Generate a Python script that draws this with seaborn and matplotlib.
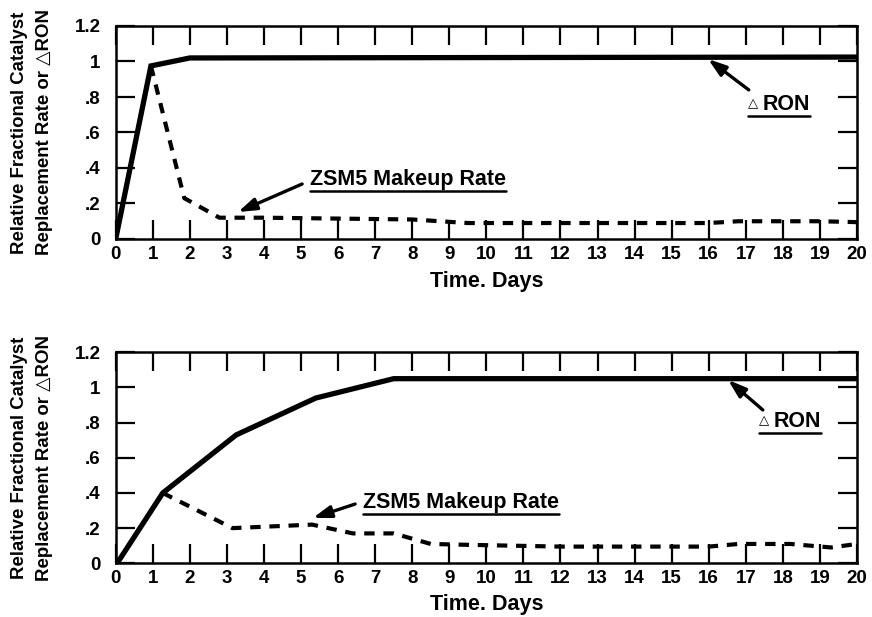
import matplotlib
matplotlib.use("Agg")
import matplotlib.pyplot as plt
import seaborn as sns
import pandas as pd
from matplotlib.lines import Line2D

# Axis ticks and labels
day_ticks = list(range(0, 21))
y_ticks = [0, 0.2, 0.4, 0.6, 0.8, 1.0, 1.2]
y_tick_labels = ["0", ".2", ".4", ".6", ".8", "1", "1.2"]

# Upper panel: fast response
ron_a_days = [0.0, 0.95, 2.0, 20.0]
ron_a_vals = [0.0, 0.975, 1.02, 1.025]
zsm_a_days = [0.95, 1.85, 2.8, 4.0, 6.0, 8.0, 9.5, 12.0, 14.0, 16.0, 16.8, 19.0, 20.0]
zsm_a_vals = [0.975, 0.23, 0.12, 0.12, 0.115, 0.11, 0.09, 0.09, 0.09, 0.09, 0.10, 0.10, 0.095]

# Lower panel: slow response
ron_b_days = [0.1, 1.27, 3.25, 5.4, 7.5, 20.0]
ron_b_vals = [0.02, 0.40, 0.73, 0.94, 1.05, 1.05]
zsm_b_days = [1.27, 3.15, 5.3, 6.4, 7.5, 8.5, 9.5, 12.0, 16.0, 16.8, 18.2, 19.3, 20.0]
zsm_b_vals = [0.40, 0.20, 0.22, 0.17, 0.17, 0.11, 0.105, 0.095, 0.095, 0.11, 0.11, 0.09, 0.11]

sns.set_theme(style="ticks")
plt.rcParams["font.family"] = ["Liberation Sans", "DejaVu Sans"]
plt.rcParams["font.weight"] = "bold"

W, H = 872, 617
fig = plt.figure(figsize=(W / 100, H / 100), dpi=100)
fig.patch.set_facecolor("white")


def px_axes(left, top, right, bottom):
    return fig.add_axes([left / W, 1 - bottom / H, (right - left) / W, (bottom - top) / H])


ax_a = px_axes(115.7, 26, 857, 239)
ax_b = px_axes(115.7, 352.3, 857, 563.3)

panels = [
    (ax_a, ron_a_days, ron_a_vals, zsm_a_days, zsm_a_vals, 6),
    (ax_b, ron_b_days, ron_b_vals, zsm_b_days, zsm_b_vals, 5),
]

for ax, rd, rv, zd, zv, xpad in panels:
    ax.set_facecolor("white")
    sns.lineplot(x=rd, y=rv, ax=ax, color="black", lw=3.8, solid_joinstyle="miter",
                 estimator=None, sort=False)
    sns.lineplot(x=zd, y=zv, ax=ax, color="black", lw=3.0, linestyle=(0, (2.5, 2.1)),
                 estimator=None, sort=False)
    ax.set_xlim(0, 20)
    ax.set_ylim(0, 1.2)
    ax.set_xticks(day_ticks)
    ax.set_xticklabels([str(d) for d in day_ticks], fontsize=13.5, fontweight="bold")
    ax.set_yticks(y_ticks)
    ax.set_yticklabels(y_tick_labels, fontsize=13.5, fontweight="bold")
    ax.tick_params(axis="x", direction="in", top=True, bottom=True, length=14, width=1.6,
                   pad=5, color="black", labelcolor="black")
    ax.tick_params(axis="y", direction="in", left=True, right=True, length=14, width=1.6,
                   pad=11, color="black", labelcolor="black")
    for s in ax.spines.values():
        s.set_visible(True)
        s.set_linewidth(1.8)
        s.set_color("black")
    ax.set_xlabel("Time. Days", fontsize=15.5, fontweight="bold", labelpad=xpad,
                  color="black")
    ax.set_ylabel("")
    ax.grid(False)

# Rotated two-line y titles
for ax in (ax_a, ax_b):
    pos = ax.get_position()
    fig.text(32 / W, pos.y0 + pos.height / 2,
             "Relative Fractional Catalyst\nReplacement Rate or \u25b3RON",
             rotation=90, ha="center", va="center", fontsize=13.4, fontweight="bold",
             linespacing=1.68, color="black")

arrow_kw = dict(arrowstyle="-|>,head_length=0.9,head_width=0.3", lw=2.4, color="black",
                shrinkA=0, shrinkB=0)

labels = []
# ZSM5 labels
t = ax_a.text(5.24, 0.338, "ZSM5 Makeup Rate", fontsize=15.5, fontweight="bold",
              ha="left", va="center", color="black")
labels.append((ax_a, t, None))
ax_a.annotate("", xy=(3.30, 0.152), xytext=(5.03, 0.31), arrowprops=arrow_kw)

t = ax_b.text(6.67, 0.343, "ZSM5 Makeup Rate", fontsize=15.5, fontweight="bold",
              ha="left", va="center", color="black")
labels.append((ax_b, t, None))
ax_b.annotate("", xy=(5.32, 0.258), xytext=(6.46, 0.337), arrowprops=arrow_kw)

# Delta RON labels
for ax, x0, yc, tail, head in [
    (ax_a, 17.06, 0.755, (17.08, 0.84), (15.98, 1.014)),
    (ax_b, 17.35, 0.804, (17.46, 0.872), (16.52, 1.043)),
]:
    tri = ax.text(x0, yc + 0.006, "\u25b3", fontsize=9.5, ha="left", va="center",
                  family=["DejaVu Sans"], color="black")
    ron = ax.text(x0 + 0.4, yc, "RON", fontsize=15.5, fontweight="bold",
                  ha="left", va="center", color="black")
    labels.append((ax, ron, tri))
    ax.annotate("", xy=head, xytext=tail, arrowprops=arrow_kw)

# Underlines beneath the annotation labels
fig.canvas.draw()
r = fig.canvas.get_renderer()
for ax, t, lead in labels:
    bb = t.get_window_extent(r)
    x_start = lead.get_window_extent(r).x0 if lead is not None else bb.x0
    y_line = bb.y0 - 1
    fig.add_artist(Line2D([x_start / W, bb.x1 / W], [y_line / H, y_line / H],
                          transform=fig.transFigure, color="black", lw=1.8))

fig.savefig("out.png", dpi=100, facecolor="white")
